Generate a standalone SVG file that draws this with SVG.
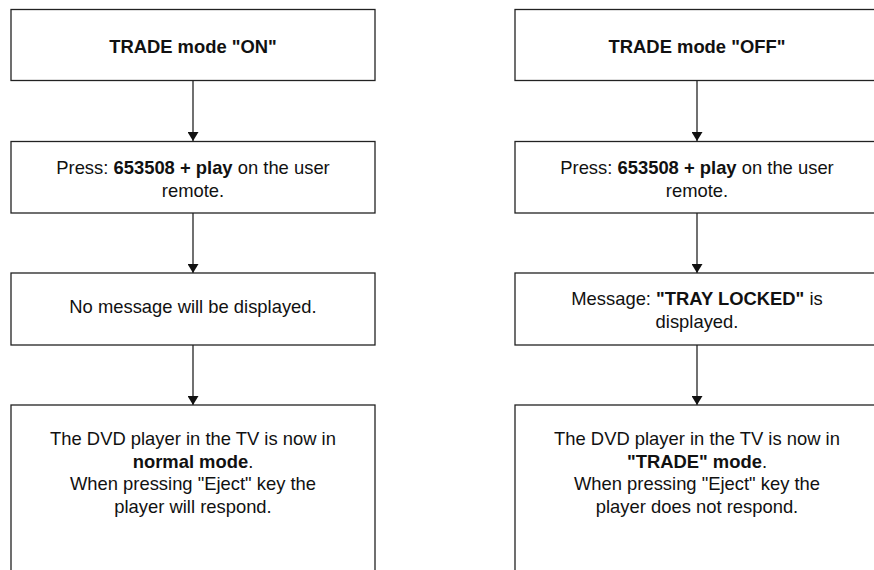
<svg xmlns="http://www.w3.org/2000/svg" width="874" height="570" viewBox="0 0 874 570">
<style>
.box{fill:#fff;stroke:#222;stroke-width:1.3}
.t{font-family:"Liberation Sans",Arial,Helvetica,sans-serif;font-size:18.4px;fill:#111;text-anchor:middle}
.b{font-weight:bold}
.c{stroke:#111;stroke-width:1.2;fill:none}
</style>
<defs>
<marker id="ah" markerWidth="9" markerHeight="11" refX="9" refY="5.5" orient="auto" markerUnits="userSpaceOnUse" viewBox="0 0 9 11">
<path d="M0,0 L9,5.5 L0,11 Z" fill="#111"/>
</marker>
</defs>
<rect width="874" height="570" fill="#fff"/>
<g id="connectors">
<line class="c" x1="193" y1="81" x2="193" y2="141" transform="" marker-end="url(#ah)"/>
<line class="c" x1="193" y1="213" x2="193" y2="273" marker-end="url(#ah)"/>
<line class="c" x1="193" y1="345" x2="193" y2="405" marker-end="url(#ah)"/>
<line class="c" x1="697" y1="81" x2="697" y2="141" marker-end="url(#ah)"/>
<line class="c" x1="697" y1="213" x2="697" y2="273" marker-end="url(#ah)"/>
<line class="c" x1="697" y1="345" x2="697" y2="405" marker-end="url(#ah)"/>
</g>
<g id="on-mode">
<rect class="box" x="11" y="9.5" width="364" height="71"/>
<text class="t b" x="193" y="53">TRADE mode "ON"</text>
</g>
<g id="on-press">
<rect class="box" x="11" y="141.5" width="364" height="71.5"/>
<text class="t" x="193" y="174">Press: <tspan class="b">653508 + play</tspan> on the user</text>
<text class="t" x="193" y="196.5">remote.</text>
</g>
<g id="on-message">
<rect class="box" x="11" y="273" width="364" height="72"/>
<text class="t" x="193" y="313">No message will be displayed.</text>
</g>
<g id="on-result">
<rect class="box" x="11" y="405" width="364" height="180"/>
<text class="t" x="193" y="445">The DVD player in the TV is now in</text>
<text class="t" x="193" y="467.7"><tspan class="b">normal mode</tspan>.</text>
<text class="t" x="193" y="490.3">When pressing "Eject" key the</text>
<text class="t" x="193" y="513">player will respond.</text>
</g>
<g id="off-mode">
<rect class="box" x="515" y="9.5" width="364" height="71"/>
<text class="t b" x="697" y="53">TRADE mode "OFF"</text>
</g>
<g id="off-press">
<rect class="box" x="515" y="141.5" width="364" height="71.5"/>
<text class="t" x="697" y="174">Press: <tspan class="b">653508 + play</tspan> on the user</text>
<text class="t" x="697" y="196.5">remote.</text>
</g>
<g id="off-message">
<rect class="box" x="515" y="273" width="364" height="72"/>
<text class="t" x="697" y="305">Message: <tspan class="b">"TRAY LOCKED"</tspan> is</text>
<text class="t" x="697" y="327.7">displayed.</text>
</g>
<g id="off-result">
<rect class="box" x="515" y="405" width="364" height="180"/>
<text class="t" x="697" y="445">The DVD player in the TV is now in</text>
<text class="t" x="697" y="467.7"><tspan class="b">"TRADE" mode</tspan>.</text>
<text class="t" x="697" y="490.3">When pressing "Eject" key the</text>
<text class="t" x="697" y="513">player does not respond.</text>
</g>
</svg>
